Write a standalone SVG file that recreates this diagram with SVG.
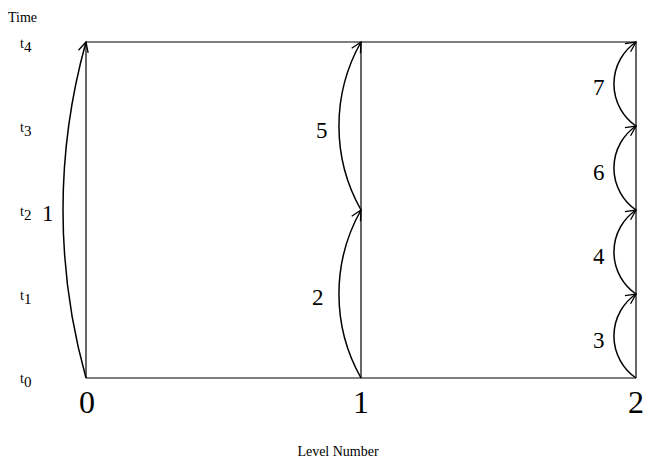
<svg xmlns="http://www.w3.org/2000/svg" width="646" height="463" viewBox="0 0 646 463">
<style>
.ln{stroke:#000;stroke-width:1.2;fill:none}
.arc{stroke:#000;stroke-width:1.5;fill:none;marker-end:url(#ah)}
text{font-family:"Liberation Serif","Times New Roman",serif;fill:#000}
.num{font-size:23px}
.tl{font-size:14px}
.ax{font-size:32px;text-anchor:middle}
</style>
<defs>
<marker id="ah" markerWidth="14" markerHeight="14" refX="12" refY="7" orient="auto" markerUnits="userSpaceOnUse">
<path d="M2,2 L12,7 L2,12" fill="none" stroke="#000" stroke-width="1.3"/>
</marker>
</defs>
<g id="frame">
<line class="ln" x1="86" y1="42" x2="636" y2="42"/>
<line class="ln" x1="86" y1="378" x2="636" y2="378"/>
</g>
<g id="level0"><line class="ln" x1="86" y1="42" x2="86" y2="378"/></g>
<g id="level1"><line class="ln" x1="361" y1="42" x2="361" y2="378"/></g>
<g id="level2"><line class="ln" x1="636" y1="42" x2="636" y2="378"/></g>
<g id="connectors">
<path class="arc" d="M86,378 A625,625 0 0 1 86,42"/>
<path class="arc" d="M361,378 A171,171 0 0 1 361,210"/>
<path class="arc" d="M361,210 A171,171 0 0 1 361,42"/>
<path class="arc" d="M636,378 A51,51 0 0 1 636,294"/>
<path class="arc" d="M636,294 A51,51 0 0 1 636,210"/>
<path class="arc" d="M636,210 A51,51 0 0 1 636,126"/>
<path class="arc" d="M636,126 A51,51 0 0 1 636,42"/>
</g>
<g id="labels">
<text class="num" x="42" y="221">1</text>
<text class="num" x="312" y="305">2</text>
<text class="num" x="316" y="138">5</text>
<text class="num" x="593" y="348">3</text>
<text class="num" x="593" y="264">4</text>
<text class="num" x="593" y="180">6</text>
<text class="num" x="593" y="95">7</text>
</g>
<g id="timeaxis">
<text x="8" y="22" style="font-size:14px">Time</text>
<text class="tl" x="20" y="48">t<tspan dy="4" style="font-size:15px">4</tspan></text>
<text class="tl" x="20" y="132">t<tspan dy="4" style="font-size:15px">3</tspan></text>
<text class="tl" x="20" y="216">t<tspan dy="4" style="font-size:15px">2</tspan></text>
<text class="tl" x="20" y="300">t<tspan dy="4" style="font-size:15px">1</tspan></text>
<text class="tl" x="20" y="383">t<tspan dy="4" style="font-size:15px">0</tspan></text>
</g>
<g id="levelaxis">
<text class="ax" x="87" y="413">0</text>
<text class="ax" x="361" y="413">1</text>
<text class="ax" x="636" y="413">2</text>
<text x="338" y="456" style="font-size:14px;text-anchor:middle">Level Number</text>
</g>
</svg>
